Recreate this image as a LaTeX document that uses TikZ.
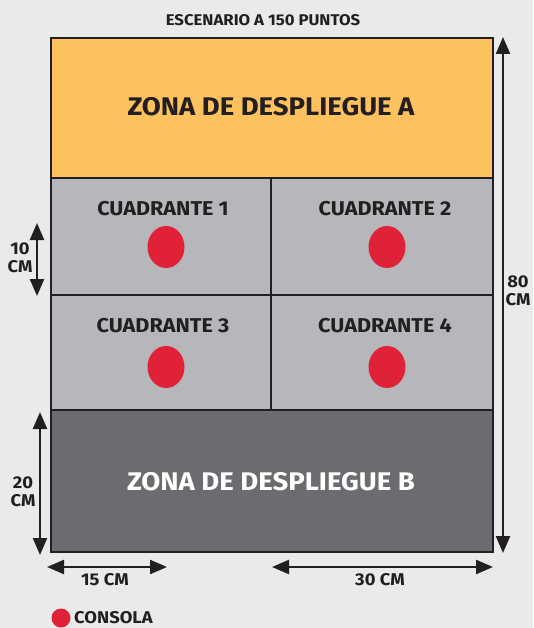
\documentclass[tikz,border=0pt]{standalone}
\usepackage{fontspec}
\setmainfont{Fira Sans}[FakeStretch=1.08]
\usetikzlibrary{positioning,arrows.meta,shapes.geometric}
\definecolor{tinta}{HTML}{231F20}
\definecolor{fondo}{HTML}{E9EAEA}
\definecolor{naranja}{HTML}{FDC15E}
\definecolor{grisclaro}{HTML}{B6B7BA}
\definecolor{grisoscuro}{HTML}{6B6C70}
\definecolor{rojo}{HTML}{E02238}

\tikzset{
  zona/.style={draw=tinta,line width=2.4pt},
  rotulo/.style={text=tinta,font=\bfseries\fontsize{#1}{#1}\selectfont,inner sep=0pt},
  consola/.style={ellipse,fill=rojo,minimum width=37pt,minimum height=42pt,inner sep=0pt},
  cota/.style={draw=tinta,line width=2.4pt,{Triangle[length=17pt,width=14pt]}-{Triangle[length=17pt,width=14pt]}},
  medida/.style={text=tinta,font=\bfseries\fontsize{17}{18}\selectfont,align=center,inner sep=0pt}
}

\begin{document}
\begin{tikzpicture}[x=1pt,y=-1pt]
\fill[fondo] (0,0) rectangle (533,628);
\useasboundingbox (0,0) rectangle (533,628);

% tablero
\fill[naranja] (51,38) rectangle (493,178);
\fill[grisclaro] (51,178) rectangle (493,410);
\fill[grisoscuro] (51,410) rectangle (493,552);
\draw[zona] (51,178) -- (493,178);
\draw[zona] (51,295) -- (493,295);
\draw[zona] (51,410) -- (493,410);
\draw[zona] (271,178) -- (271,410);
\draw[zona] (51,38) rectangle (493,552);

\node[rotulo=15.5] (titulo) at (263,20) {ESCENARIO A 150 PUNTOS};
\node[rotulo=25.5] (zonaA) at (271,107) {ZONA DE DESPLIEGUE A};
\node[rotulo=25.5,text=white] (zonaB) at (271,482) {ZONA DE DESPLIEGUE B};

\node[rotulo=20] (cuad1) at (163,209) {CUADRANTE 1};
\node[rotulo=20] (cuad2) at (385,209) {CUADRANTE 2};
\node[rotulo=20] (cuad3) at (163,326) {CUADRANTE 3};
\node[rotulo=20] (cuad4) at (385,326) {CUADRANTE 4};

\node[consola] (con1) at (166,247) {};
\node[consola] (con2) at (387,247) {};
\node[consola] (con3) at (166,367) {};
\node[consola] (con4) at (387,367) {};

% cotas
\coordinate (c80a) at (503,37);
\coordinate (c80b) at (503,553);
\coordinate (c10a) at (37,223);
\coordinate (c10b) at (37,296);
\coordinate (c20a) at (40,412);
\coordinate (c20b) at (40,555);
\coordinate (c15a) at (47,567);
\coordinate (c15b) at (167,567);
\coordinate (c30a) at (272,567);
\coordinate (c30b) at (493,567);
\draw[cota] (c80a) -- (c80b);
\draw[cota] (c10a) -- (c10b);
\draw[cota] (c20a) -- (c20b);
\draw[cota] (c15a) -- (c15b);
\draw[cota] (c30a) -- (c30b);

\node[medida] (m80) at (518,291) {80\\CM};
\node[medida] (m10) at (20,258) {10\\CM};
\node[medida] (m20) at (23,492) {20\\CM};
\node[medida] (m15) at (105,580) {15 CM};
\node[medida] (m30) at (380,580) {30 CM};

% leyenda
\node[circle,fill=rojo,minimum size=19pt,inner sep=0pt] (leyenda) at (61,618) {};
\node[medida,anchor=west] (consolatxt) at (74,618) {CONSOLA};
\end{tikzpicture}
\end{document}
